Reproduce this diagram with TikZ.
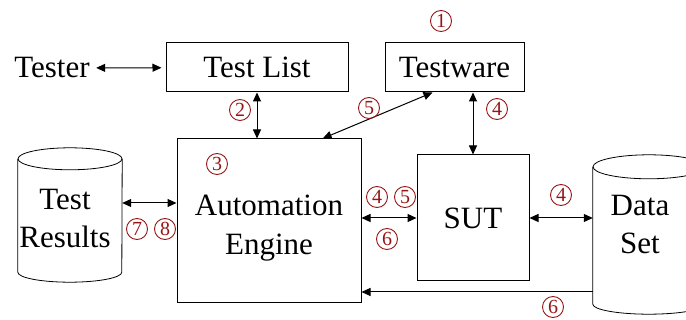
\documentclass[tikz,border=0pt]{standalone}
\usepackage{fontspec}
\setmainfont{Liberation Serif}
\usetikzlibrary{arrows.meta,positioning,calc}
\definecolor{numred}{RGB}{150,22,22}

\begin{document}
\begin{tikzpicture}[
  x=1pt, y=-1pt,
  font=\fontsize{31}{38.5}\selectfont,
  box/.style={draw, line width=1pt, align=center, inner sep=0pt},
  cyl/.style={inner sep=0pt},
  num/.style={circle, draw=numred, text=numred, line width=0.9pt, inner sep=0pt,
    minimum size=21pt, font=\fontsize{20}{20}\selectfont},
  arrow/.style={{Triangle[length=9pt,width=8pt]}-{Triangle[length=9pt,width=8pt]}, line width=1pt},
  sarrow/.style={-{Triangle[length=9pt,width=8pt]}, line width=1pt}
]
\clip (0,0) rectangle (686,320);
\node[box, minimum width=182pt, minimum height=49pt] (tl) at (257,67.5) {Test List};
\node[box, minimum width=139pt, minimum height=49pt] (tw) at (454.5,67.5) {Testware};
\node[box, minimum width=184pt, minimum height=164pt] (ae) at (269,221) {\\[-4pt]Automation\\Engine};
\node[box, minimum width=112pt, minimum height=126pt] (sut) at (473,218) {SUT};
\node (tester) at (52,68) {Tester};

% data stores
\node[cyl, minimum width=104pt, minimum height=113pt] (tr) at (70,215.5) {};
\node[align=center, xshift=-5pt, yshift=-3pt] at (tr) {Test\\Results};
\draw[line width=0.8pt] (tr.north west) -- (tr.south west)
  arc[start angle=180, end angle=360, x radius=52pt, y radius=10pt] -- (tr.north east);
\draw[line width=0.8pt] (tr.north) ellipse[x radius=52pt, y radius=11pt];
\node[cyl, minimum width=112pt, minimum height=137pt] (ds) at (649,235.5) {};
\node[align=center, xshift=-9pt, yshift=11pt] at (ds) {Data\\Set};
\draw[line width=0.8pt] (ds.north west) -- (ds.south west)
  arc[start angle=180, end angle=360, x radius=56pt, y radius=10pt] -- (ds.north east);
\draw[line width=0.8pt] (ds.north) ellipse[x radius=56pt, y radius=12pt];

\draw[arrow, shorten <=3pt, shorten >=4pt] (tester) -- (tl);
\draw[arrow] (tl.south) -- (tl.south |- ae.north);
\draw[arrow] ($(ae.north)!0.58!(ae.north east)$) -- ([xshift=-22pt]tw.south);
\draw[arrow] (tw.south -| sut.north) -- (sut.north);
\draw[arrow] ([yshift=12.5pt]tr.east) -- ([yshift=12.5pt]tr.east -| ae.west);
\draw[arrow] (sut.west -| ae.east) -- (sut.west);
\draw[arrow] (sut.east) -- (sut.east -| ds.west);
\draw[sarrow] ([yshift=-56.5pt]ds.west) -- ([yshift=-56.5pt]ds.west -| ae.east);

% step numbers
\node[num] (n1) at (441,21) {1};
\node[num] (n2) at (240,110) {2};
\node[num] (n3) at (217,164) {3};
\node[num] (n5a) at (369,108) {5};
\node[num] (n4a) at (497,109) {4};
\node[num] (n7) at (137,229) {7};
\node[num] (n8) at (165,229) {8};
\node[num] (n4b) at (377,197) {4};
\node[num] (n5b) at (405,197) {5};
\node[num] (n6a) at (387,239) {6};
\node[num] (n4c) at (561,195) {4};
\node[num] (n6b) at (553,307) {6};
\end{tikzpicture}
\end{document}
